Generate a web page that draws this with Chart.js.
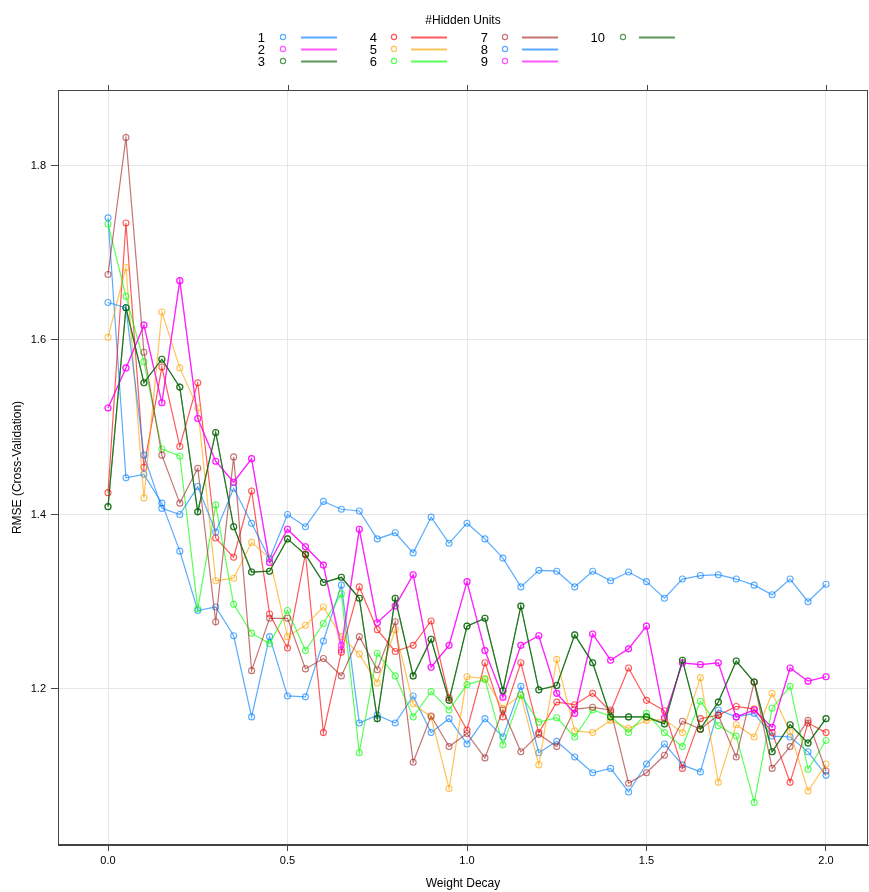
<!DOCTYPE html>
<html>
<head>
<meta charset="utf-8">
<script src="https://cdn.jsdelivr.net/npm/chart.js@4.4.0/dist/chart.umd.min.js"></script>
<style>
  html, body { margin: 0; padding: 0; background: #fff; }
</style>
</head>
<body>
<canvas id="myChart" width="869" height="892"></canvas>
<script>
// Weight decay values (x)
const decay = [0, 0.05, 0.1, 0.15, 0.2, 0.25, 0.3, 0.35, 0.4, 0.45, 0.5, 0.55, 0.6, 0.65, 0.7, 0.75, 0.8, 0.85, 0.9, 0.95,
  1.0, 1.05, 1.1, 1.15, 1.2, 1.25, 1.3, 1.35, 1.4, 1.45, 1.5, 1.55, 1.6, 1.65, 1.7, 1.75, 1.8, 1.85, 1.9, 1.95, 2.0];

const xTicks = [0, 0.5, 1, 1.5, 2];
const yTicks = [1.2, 1.4, 1.6, 1.8];

// RMSE per number of hidden units
const units1 = [1.74, 1.442, 1.446, 1.413, 1.358, 1.29, 1.294, 1.261, 1.168, 1.26, 1.192, 1.191, 1.255, 1.319, 1.161, 1.17, 1.161, 1.192, 1.15, 1.166,
  1.137, 1.166, 1.145, 1.203, 1.127, 1.14, 1.122, 1.104, 1.109, 1.082, 1.114, 1.137, 1.113, 1.105, 1.176, 1.168, 1.172, 1.146, 1.145, 1.128, 1.101];
const units2 = [1.522, 1.568, 1.617, 1.528, 1.668, 1.51, 1.461, 1.437, 1.464, 1.345, 1.383, 1.363, 1.342, 1.245, 1.383, 1.276, 1.295, 1.331, 1.225, 1.25,
  1.323, 1.244, 1.191, 1.25, 1.261, 1.195, 1.172, 1.263, 1.233, 1.246, 1.272, 1.167, 1.23, 1.228, 1.23, 1.168, 1.176, 1.156, 1.224, 1.209, 1.214];
const units3 = [1.409, 1.637, 1.551, 1.578, 1.546, 1.403, 1.494, 1.386, 1.334, 1.335, 1.372, 1.354, 1.322, 1.328, 1.304, 1.166, 1.304, 1.215, 1.257, 1.187,
  1.272, 1.281, 1.198, 1.295, 1.199, 1.204, 1.262, 1.23, 1.168, 1.168, 1.168, 1.16, 1.233, 1.154, 1.185, 1.232, 1.208, 1.128, 1.159, 1.138, 1.166];
const units4 = [1.425, 1.734, 1.454, 1.569, 1.478, 1.551, 1.373, 1.351, 1.427, 1.286, 1.247, 1.355, 1.15, 1.242, 1.317, 1.268, 1.243, 1.25, 1.278, 1.19,
  1.153, 1.23, 1.168, 1.23, 1.15, 1.185, 1.182, 1.195, 1.174, 1.224, 1.187, 1.175, 1.109, 1.166, 1.17, 1.18, 1.177, 1.15, 1.093, 1.161, 1.15];
const units5 = [1.603, 1.683, 1.419, 1.632, 1.568, 1.522, 1.324, 1.327, 1.368, 1.35, 1.26, 1.273, 1.294, 1.26, 1.24, 1.207, 1.268, 1.183, 1.168, 1.086,
  1.214, 1.212, 1.178, 1.193, 1.113, 1.234, 1.152, 1.15, 1.164, 1.155, 1.164, 1.165, 1.15, 1.213, 1.093, 1.159, 1.145, 1.195, 1.151, 1.083, 1.114];
const units6 = [1.733, 1.65, 1.575, 1.475, 1.467, 1.292, 1.411, 1.297, 1.264, 1.252, 1.29, 1.244, 1.275, 1.309, 1.127, 1.241, 1.215, 1.168, 1.197, 1.176,
  1.205, 1.211, 1.136, 1.193, 1.162, 1.167, 1.145, 1.176, 1.169, 1.15, 1.172, 1.15, 1.134, 1.186, 1.158, 1.146, 1.07, 1.178, 1.203, 1.108, 1.141];
const units7 = [1.675, 1.832, 1.586, 1.468, 1.413, 1.453, 1.277, 1.466, 1.221, 1.281, 1.281, 1.223, 1.235, 1.215, 1.26, 1.222, 1.277, 1.116, 1.169, 1.134,
  1.149, 1.121, 1.176, 1.128, 1.148, 1.134, 1.177, 1.179, 1.176, 1.092, 1.104, 1.124, 1.163, 1.154, 1.17, 1.122, 1.208, 1.109, 1.134, 1.164, 1.106];
const units8 = [1.643, 1.637, 1.468, 1.407, 1.40, 1.432, 1.38, 1.43, 1.39, 1.349, 1.40, 1.386, 1.415, 1.406, 1.404, 1.372, 1.379, 1.356, 1.397, 1.367,
  1.39, 1.372, 1.35, 1.317, 1.336, 1.335, 1.317, 1.335, 1.324, 1.334, 1.323, 1.304, 1.326, 1.33, 1.331, 1.326, 1.319, 1.308, 1.326, 1.30, 1.32];
const units9 = [1.522, 1.568, 1.617, 1.528, 1.668, 1.51, 1.461, 1.437, 1.464, 1.345, 1.383, 1.363, 1.342, 1.25, 1.383, 1.276, 1.295, 1.331, 1.225, 1.25,
  1.323, 1.244, 1.19, 1.25, 1.261, 1.195, 1.172, 1.263, 1.233, 1.246, 1.272, 1.167, 1.23, 1.228, 1.23, 1.168, 1.176, 1.156, 1.224, 1.209, 1.214];
const units10 = [1.409, 1.637, 1.551, 1.578, 1.546, 1.403, 1.494, 1.386, 1.334, 1.335, 1.372, 1.354, 1.322, 1.328, 1.304, 1.166, 1.304, 1.215, 1.257, 1.187,
  1.272, 1.281, 1.198, 1.295, 1.199, 1.204, 1.262, 1.23, 1.168, 1.168, 1.168, 1.16, 1.233, 1.154, 1.185, 1.232, 1.208, 1.128, 1.159, 1.138, 1.166];

const seriesNames = ["1", "2", "3", "4", "5", "6", "7", "8", "9", "10"];
const seriesValues = [units1, units2, units3, units4, units5, units6, units7, units8, units9, units10];
const colors = [
  "rgba(0,128,255,0.65)", "rgba(255,0,255,0.65)", "rgba(0,100,0,0.65)", "rgba(255,0,0,0.65)", "rgba(255,165,0,0.65)",
  "rgba(0,255,0,0.65)", "rgba(165,42,42,0.65)", "rgba(0,128,255,0.65)", "rgba(255,0,255,0.65)", "rgba(0,100,0,0.65)"
];

const FONT = "'Liberation Sans', Arial, sans-serif";

// frame box, top ticks and the key on top
const framePlugin = {
  id: "frame",
  afterDraw(chart) {
    const ctx = chart.ctx;
    const a = chart.chartArea;
    const xs = chart.scales.x;
    ctx.save();
    ctx.strokeStyle = "#444";
    ctx.lineWidth = 1;
    ctx.strokeRect(Math.round(a.left) + 0.5, Math.round(a.top) + 0.5,
      Math.round(a.right - a.left) - 1, Math.round(a.bottom - a.top) - 1);
    ctx.beginPath();
    xTicks.forEach((v) => {
      const px = Math.round(xs.getPixelForValue(v)) + 0.5;
      ctx.moveTo(px, a.top);
      ctx.lineTo(px, a.top - 5);
    });
    ctx.stroke();

    // key
    ctx.fillStyle = "#000";
    ctx.font = "12px " + FONT;
    ctx.textAlign = "center";
    ctx.textBaseline = "middle";
    ctx.fillText("#Hidden Units", 463, 21);

    const textRight = [265, 377, 488, 605];
    const pointX = [283, 394, 505, 623];
    const lineX = [301, 411, 522, 639];
    const rowY = [37, 49, 61];
    seriesNames.forEach((name, i) => {
      const col = Math.floor(i / 3);
      const y = rowY[i % 3];
      ctx.fillStyle = "#000";
      ctx.textAlign = "right";
      ctx.font = "13px " + FONT;
      ctx.fillText(name, textRight[col], y + 1);
      ctx.strokeStyle = colors[i];
      ctx.lineWidth = 1.2;
      ctx.beginPath();
      ctx.arc(pointX[col], y, 2.6, 0, Math.PI * 2);
      ctx.stroke();
      ctx.fillStyle = colors[i];
      ctx.fillRect(lineX[col], y - 0.5, 36, 2);
    });
    ctx.restore();
  }
};

function renderChart() {
  const ctx = document.getElementById("myChart").getContext("2d");
  const datasets = seriesValues.map((vals, i) => ({
    label: seriesNames[i],
    data: vals.map((v, j) => ({ x: decay[j], y: v })),
    borderColor: colors[i],
    backgroundColor: "rgba(0,0,0,0)",
    borderWidth: 1.2,
    pointRadius: 3,
    pointBorderWidth: 1.1,
    pointBorderColor: colors[i],
    pointBackgroundColor: "rgba(0,0,0,0)",
    tension: 0,
    order: 10 - i,
  }));

  new Chart(ctx, {
    type: "line",
    data: { datasets: datasets },
    options: {
      responsive: false,
      animation: false,
      layout: { autoPadding: false, padding: { top: 90, right: 1, left: 0, bottom: 0 } },
      plugins: { legend: { display: false }, tooltip: { enabled: false } },
      scales: {
        x: {
          type: "linear",
          min: -0.1393,
          max: 2.117,
          afterBuildTicks: (s) => { s.ticks = xTicks.map((v) => ({ value: v })); },
          afterFit: (s) => { s.height = 47; s.paddingLeft = 0; s.paddingRight = 0; },
          ticks: {
            callback: (v) => Number(v).toFixed(1),
            font: { family: FONT, size: 11 },
            color: "#000",
            padding: 3,
            maxRotation: 0,
          },
          grid: { color: "#e6e6e6", tickColor: "#444", tickLength: 6 },
          border: { display: true, color: "#444" },
          title: {
            display: true,
            text: "Weight Decay",
            font: { family: FONT, size: 12 },
            color: "#000",
            padding: { top: 0, bottom: 1 },
          },
        },
        y: {
          type: "linear",
          min: 1.0212,
          max: 1.8865,
          afterBuildTicks: (s) => { s.ticks = yTicks.map((v) => ({ value: v })); },
          afterFit: (s) => { s.width = 58; },
          ticks: {
            callback: (v) => Number(v).toFixed(1),
            font: { family: FONT, size: 11 },
            color: "#000",
            padding: 5,
          },
          grid: { color: "#e6e6e6", tickColor: "#444", tickLength: 7 },
          border: { display: true, color: "#444" },
          title: {
            display: true,
            text: "RMSE (Cross-Validation)",
            font: { family: FONT, size: 12 },
            color: "#000",
            padding: { top: 10, bottom: 0 },
          },
        },
      },
    },
    plugins: [framePlugin],
  });
}

document.addEventListener("DOMContentLoaded", () => {
  renderChart();
});
</script>
</body>
</html>
